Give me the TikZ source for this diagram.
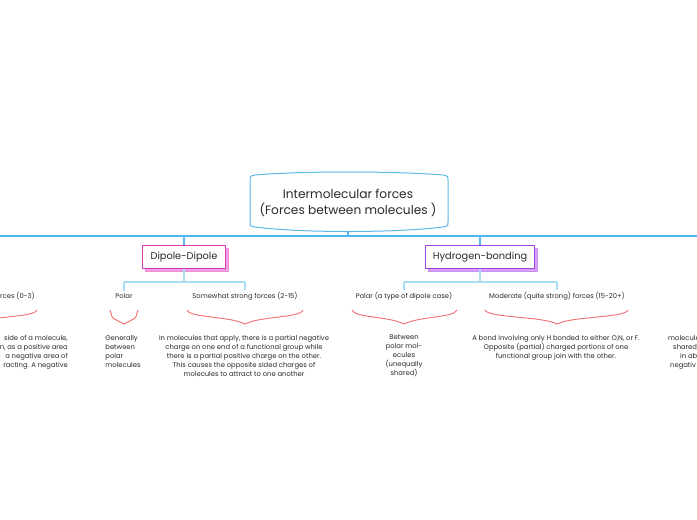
\documentclass[tikz,border=0pt]{standalone}
\usepackage{fontspec}
\setmainfont{Poppins}
\usepackage{tikz}
\usetikzlibrary{shadows}
\definecolor{mainblue}{HTML}{4FB8EC}
\definecolor{subblue}{HTML}{A9DDF6}
\definecolor{rootc}{HTML}{5BB8EA}
\definecolor{ddc}{HTML}{D63CB5}
\definecolor{ddsh}{HTML}{F3A0E0}
\definecolor{hbc}{HTML}{A542E0}
\definecolor{hbsh}{HTML}{D3A2F4}
\definecolor{bracec}{HTML}{F26D6D}
\definecolor{txt}{HTML}{2A2A2A}
% brace under a label: left end, tip, right end
\newcommand\bracebelow[3]{\draw[brace] (#1,310) .. controls (#1+3,318) and (#2-16,316) .. (#2,324) .. controls (#2+16,316) and (#3-3,318) .. (#3,310);}

\begin{document}
\begin{tikzpicture}[x=1pt,y=-1pt,
  mainline/.style={mainblue,line width=1.8pt},
  subline/.style={subblue,line width=1.3pt},
  brace/.style={bracec,line width=0.9pt},
  topic/.style={inner sep=1.5pt,text=txt,font=\fontsize{9.8}{11}\selectfont,minimum height=23pt},
  ddbox/.style={topic,draw=ddc,fill=white,line width=1pt,minimum width=83pt,
    general shadow={shadow xshift=3pt,shadow yshift=-3pt,fill=ddsh,draw=ddsh!80!ddc}},
  hbbox/.style={topic,draw=hbc,fill=white,line width=1pt,minimum width=109pt,
    general shadow={shadow xshift=3pt,shadow yshift=-3pt,fill=hbsh,draw=hbsh!80!hbc}},
  sub/.style={inner sep=2pt,text=txt,font=\fontsize{6.8}{8}\selectfont},
  desc/.style={inner sep=0pt,text=txt,font=\fontsize{6.8}{9}\selectfont,anchor=north}]
\clip (0,0) rectangle (697,520);
\fill[white] (0,0) rectangle (697,520);

% root
\node[text=txt,font=\fontsize{12.2}{16}\selectfont,align=center,minimum width=198pt,minimum height=54pt]
  (root) at (348,203) {Intermolecular forces\\(Forces between molecules )};
\draw[rootc,line width=1pt] (250,180) -- (250,222) .. controls (250,226) .. (255,227)
  .. controls (300,233) and (396,233) .. (443,227) .. controls (448,226) .. (448,222)
  -- (448,180) .. controls (448,176) .. (443,175) .. controls (396,171) and (300,171) .. (255,175)
  .. controls (250,176) .. (250,180);
\coordinate (rootb) at (348,232);

% main line
\coordinate (west) at (-5,236);
\coordinate (east) at (702,236);
\draw[mainline] (west) -- (east);
\draw[mainline] (rootb) -- (rootb |- west);

% topics
\node[ddbox] (dd) at (184,257) {Dipole-Dipole};
\node[hbbox] (hb) at (480,257) {Hydrogen-bonding};
\draw[mainline] (dd.north |- west) -- (dd.north);
\draw[mainline] (hb.north |- west) -- (hb.north);

% subtopics
\node[sub] (ddpolar) at (124,296) {Polar};
\node[sub] (ddstrong) at (245,296) {Somewhat strong forces (2-15)};
\node[sub] (hbpolar) at (404,296) {Polar (a type of dipole case)};
\node[sub] (hbmod) at (557,296) {Moderate (quite strong) forces (15-20+)};
\node[sub,anchor=west,inner sep=0pt] (lfsub) at (0,296) {rces (0-3)};

\draw[subline] (dd.south) -- ++(0,13) coordinate (ddj);
\draw[subline] (ddj -| ddpolar.north) -- (ddj -| ddstrong.north);
\draw[subline] (ddj -| ddpolar.north) -- (ddpolar.north);
\draw[subline] (ddj -| ddstrong.north) -- (ddstrong.north);
\draw[subline] (hb.south) -- ++(0,13) coordinate (hbj);
\draw[subline] (hbj -| hbpolar.north) -- (hbj -| hbmod.north);
\draw[subline] (hbj -| hbpolar.north) -- (hbpolar.north);
\draw[subline] (hbj -| hbmod.north) -- (hbmod.north);

% braces
\bracebelow{110}{124}{138}
\bracebelow{187}{245}{303}
\bracebelow{352}{404}{457}
\bracebelow{485}{557}{628}
\bracebelow{-100}{-31}{37}

% descriptions
\node[desc,align=left] (ddpolartxt) at (123,335) {Generally\\between\\polar\\molecules};
\node[desc,align=center] (ddstrongtxt) at (244,335) {In molecules that apply, there is a partial negative\\charge on one end of a functional group while\\there is a partial positive charge on the other.\\This causes the opposite sided charges of\\molecules to attract to one another};
\node[desc,align=center] (hbpolartxt) at (404,335) {Between\\polar mol-\\ecules\\(unequally\\shared)};
\node[desc,align=center] (hbmodtxt) at (556,335) {A bond involving only H bonded to either O,N, or F.\\Opposite (partial) charged portions of one\\functional group join with the other.};
\node[desc,align=right,anchor=north east] (lftxt) at (68,335) {side of a molecule,\\n, as a positive area\\a negative area of\\racting. A negative};
\node[desc,align=left,anchor=north west] (rttxt) at (668,335) {molecule\\\hspace*{5pt}shared\\\hspace*{12pt}in ab\\\hspace*{2pt}negativ};
\end{tikzpicture}
\end{document}
